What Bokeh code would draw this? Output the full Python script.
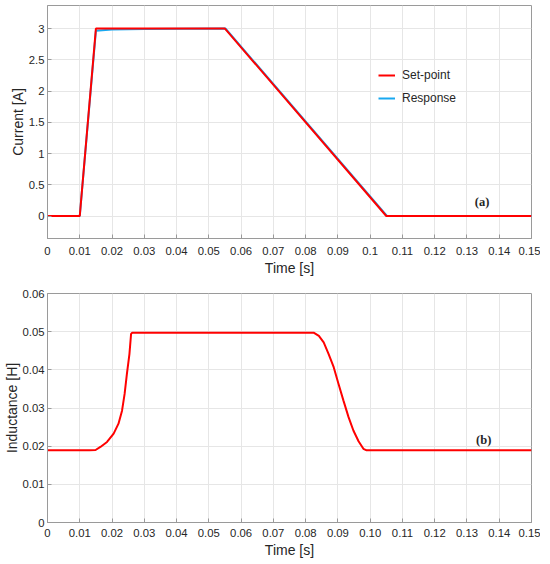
from bokeh.plotting import figure
from bokeh.models import FixedTicker, Legend, LegendItem, Label, Range1d
from bokeh.layouts import column
from bokeh.embed import file_html
from bokeh.resources import INLINE

# ---------------- data ----------------
# (a) current
t_set = [0.0, 0.010, 0.015, 0.055, 0.105, 0.150]
i_set = [0.0, 0.0, 3.0, 3.0, 0.0, 0.0]
t_resp = [0.0, 0.010, 0.015, 0.020, 0.030, 0.0552, 0.1052, 0.150]
i_resp = [0.0, 0.0, 2.965, 2.985, 2.995, 3.0, 0.0, 0.0]

# (b) inductance
t_ind = [0.0, 0.0100, 0.0130, 0.0149, 0.0164, 0.01845, 0.0205, 0.0220, 0.0231,
         0.0239, 0.0246, 0.0254, 0.0259, 0.0262, 0.0826, 0.0841, 0.0856, 0.0871,
         0.0887, 0.0902, 0.0917, 0.0933, 0.0948, 0.0964, 0.0979, 0.0989, 0.150]
l_ind = [0.0189, 0.0189, 0.0189, 0.0190, 0.0198, 0.0211, 0.0233, 0.0259, 0.0293,
         0.0337, 0.0389, 0.0442, 0.0494, 0.0497, 0.0497, 0.0489, 0.0472, 0.0442,
         0.0407, 0.0363, 0.0320, 0.0276, 0.0241, 0.0213, 0.0193, 0.0189, 0.0189]

x_ticks = [0.0, 0.01, 0.02, 0.03, 0.04, 0.05, 0.06, 0.07, 0.08, 0.09, 0.10,
           0.11, 0.12, 0.13, 0.14, 0.15]
x_labels_a = ["0", "0.01", "0.02", "0.03", "0.04", "0.05", "0.06", "0.07", "0.08",
              "0.09", "0.1", "0.11", "0.12", "0.13", "0.14", "0.15"]
x_labels_b = ["0", "0.01", "0.02", "0.03", "0.04", "0.05", "0.06", "0.07", "0.08",
              "0.09", "0.10", "0.11", "0.12", "0.13", "0.14", "0.15"]
y_ticks_a = [0.0, 0.5, 1.0, 1.5, 2.0, 2.5, 3.0]
y_labels_a = ["0", "0.5", "1", "1.5", "2", "2.5", "3"]
y_ticks_b = [0.0, 0.01, 0.02, 0.03, 0.04, 0.05, 0.06]
y_labels_b = ["0", "0.01", "0.02", "0.03", "0.04", "0.05", "0.06"]

RED = "#ff0000"
BLUE = "#18a8f0"
FRAME = "#9a9a9a"
GRID = "#e6e6e6"
TXT = "#262626"
FONT = "Liberation Sans"


def style(p, xt, xl, yt, yl, xlab, ylab):
    p.xaxis.ticker = FixedTicker(ticks=xt)
    p.yaxis.ticker = FixedTicker(ticks=yt)
    p.xaxis.major_label_overrides = {v: s for v, s in zip(xt, xl)}
    p.yaxis.major_label_overrides = {v: s for v, s in zip(yt, yl)}
    p.xaxis.axis_label = xlab
    p.yaxis.axis_label = ylab
    for ax in (p.xaxis[0], p.yaxis[0]):
        ax.axis_line_color = FRAME
        ax.major_tick_line_color = FRAME
        ax.major_tick_in = 4
        ax.major_tick_out = 0
        ax.minor_tick_line_color = None
        ax.major_label_text_font = FONT
        ax.major_label_text_font_size = "11.3px"
        ax.major_label_text_color = TXT
        ax.axis_label_text_font = FONT
        ax.axis_label_text_font_size = "14px"
        ax.axis_label_text_font_style = "normal"
        ax.axis_label_text_color = TXT
    p.yaxis.major_label_standoff = 3
    p.yaxis.axis_label_standoff = 0
    p.xgrid.grid_line_color = GRID
    p.ygrid.grid_line_color = GRID
    p.outline_line_color = FRAME
    p.background_fill_color = "white"
    p.border_fill_color = "white"


# ---------------- (a) ----------------
p1 = figure(width=540, height=279, output_backend="svg", toolbar_location=None,
            x_range=Range1d(0, 0.15), y_range=Range1d(-0.36, 3.37),
            min_border_left=47, min_border_right=9, min_border_top=5, min_border_bottom=41)
style(p1, x_ticks, x_labels_a, y_ticks_a, y_labels_a, "Time [s]", "Current [A]")
p1.xaxis.major_label_standoff = 8
p1.xaxis.axis_label_standoff = 2
r_resp = p1.line(t_resp, i_resp, line_color=BLUE, line_width=2)
r_set = p1.line(t_set, i_set, line_color=RED, line_width=2)
leg = Legend(items=[LegendItem(label="Set-point", renderers=[r_set]),
                    LegendItem(label="Response", renderers=[r_resp])],
             location=(331, 130), border_line_color=None, background_fill_alpha=0,
             padding=0, margin=0, spacing=3, glyph_width=17, glyph_height=20,
             label_standoff=7, label_text_font=FONT, label_text_font_size="12px",
             label_text_color=TXT)
p1.add_layout(leg)
p1.add_layout(Label(x=0.1347, y=0.225, text="(a)", text_align="center",
                    text_baseline="middle", text_font="Liberation Serif",
                    text_font_style="bold", text_font_size="12.5px", text_color=TXT))

# ---------------- (b) ----------------
p2 = figure(width=540, height=281, output_backend="svg", toolbar_location=None,
            x_range=Range1d(0, 0.15), y_range=Range1d(0, 0.06),
            min_border_left=47, min_border_right=9, min_border_top=14, min_border_bottom=37)
style(p2, x_ticks, x_labels_b, y_ticks_b, y_labels_b, "Time [s]", "Inductance [H]")
p2.xaxis.major_label_standoff = 6
p2.xaxis.axis_label_standoff = 2
p2.line(t_ind, l_ind, line_color=RED, line_width=2)
p2.add_layout(Label(x=0.1352, y=0.0217, text="(b)", text_align="center",
                    text_baseline="middle", text_font="Liberation Serif",
                    text_font_style="bold", text_font_size="12.5px", text_color=TXT))

layout = column(p1, p2)
open("out.html", "w").write(file_html(layout, INLINE))
